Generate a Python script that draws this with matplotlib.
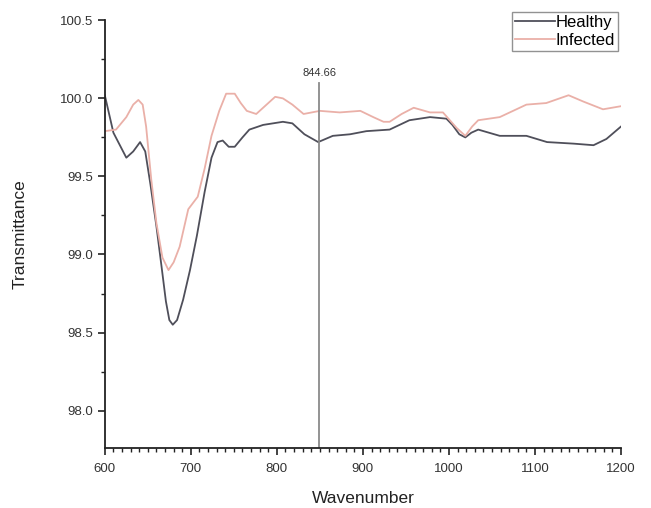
import matplotlib
matplotlib.use("Agg")
import matplotlib.pyplot as plt
from matplotlib.ticker import MultipleLocator

plt.rcParams['font.family'] = ['Liberation Sans', 'DejaVu Sans']

# Healthy spectrum (wavenumber, transmittance)
healthy_x = [600, 610, 625, 633, 641, 647, 653, 660, 666, 671, 675, 679, 684, 691, 699, 707,
             716, 724, 731, 737, 744, 751, 760, 768, 784, 807, 818, 832, 848, 865, 885,
             904, 931, 954, 978, 997, 1004, 1012, 1019, 1026, 1034, 1059, 1090, 1114,
             1145, 1168, 1183, 1200]
healthy_y = [100.02, 99.78, 99.62, 99.66, 99.72, 99.66, 99.45, 99.18, 98.92, 98.7, 98.58, 98.55,
             98.58, 98.71, 98.9, 99.12, 99.4, 99.62, 99.72, 99.73, 99.69, 99.69, 99.75, 99.8,
             99.83, 99.85, 99.84, 99.77, 99.72, 99.76, 99.77, 99.79, 99.8, 99.86, 99.88, 99.87,
             99.83, 99.77, 99.75, 99.78, 99.8, 99.76, 99.76, 99.72, 99.71, 99.7, 99.74, 99.82]

# Infected spectrum
infected_x = [600, 613, 625, 633, 639, 644, 648, 654, 660, 667, 674, 680, 687, 697, 708,
              716, 724, 733, 741, 751, 758, 765, 776, 788, 798, 807, 818, 831, 850, 873,
              897, 912, 924, 931, 945, 959, 978, 993, 1001, 1009, 1019, 1027, 1034, 1059,
              1090, 1113, 1139, 1156, 1179, 1200]
infected_y = [99.79, 99.8, 99.88, 99.96, 99.99, 99.96, 99.82, 99.48, 99.2, 98.98, 98.9, 98.95,
              99.05, 99.29, 99.37, 99.55, 99.76, 99.92, 100.03, 100.03, 99.97, 99.92, 99.9,
              99.96, 100.01, 100.0, 99.96, 99.9, 99.92, 99.91, 99.92, 99.88, 99.85, 99.85,
              99.9, 99.94, 99.91, 99.91, 99.86, 99.81, 99.76, 99.82, 99.86, 99.88, 99.96,
              99.97, 100.02, 99.98, 99.93, 99.95]

marker_x = 849
marker_label = "844.66"

fig = plt.figure(figsize=(6.51, 5.08), dpi=100)
ax = fig.add_axes([0.161, 0.118, 0.793, 0.842])

ax.plot(healthy_x, healthy_y, color='#4f4f5a', lw=1.3, label='Healthy')
ax.plot(infected_x, infected_y, color='#eab0a8', lw=1.3, label='Infected')

ax.plot([marker_x, marker_x], [97.76, 100.1], color='#8a8a8a', lw=1.3)
ax.text(marker_x + 1, 100.165, marker_label, ha='center', va='center', fontsize=8, color='#333333')

ax.set_xlim(600, 1200)
ax.set_ylim(97.76, 100.5)

ax.spines['top'].set_visible(False)
ax.spines['right'].set_visible(False)
for s in ('left', 'bottom'):
    ax.spines[s].set_linewidth(1.3)
    ax.spines[s].set_color('#222222')

ax.xaxis.set_major_locator(MultipleLocator(100))
ax.xaxis.set_minor_locator(MultipleLocator(10))
ax.yaxis.set_major_locator(MultipleLocator(0.5))
ax.yaxis.set_minor_locator(MultipleLocator(0.25))
ax.yaxis.set_major_formatter(plt.FormatStrFormatter('%.1f'))

ax.tick_params(axis='both', which='major', direction='out', length=5, width=1.2,
               labelsize=9.5, colors='#222222', labelcolor='#333333')
ax.tick_params(axis='x', which='major', pad=6)
ax.tick_params(axis='both', which='minor', direction='out', length=3, width=1.0, colors='#222222')

ax.set_xlabel('Wavenumber', fontsize=12.5, color='#222222', labelpad=11)
ax.set_ylabel('Transmittance', fontsize=12.5, color='#222222', labelpad=23)

leg = ax.legend(loc='upper right', bbox_to_anchor=(0.995, 1.02), borderaxespad=0,
                fontsize=12, frameon=True, fancybox=False, handlelength=2.4,
                handletextpad=0.05, borderpad=0.2, labelspacing=0.15)
leg.get_frame().set_edgecolor('#777777')
leg.get_frame().set_linewidth(1.0)

fig.savefig('out.png', dpi=100)
